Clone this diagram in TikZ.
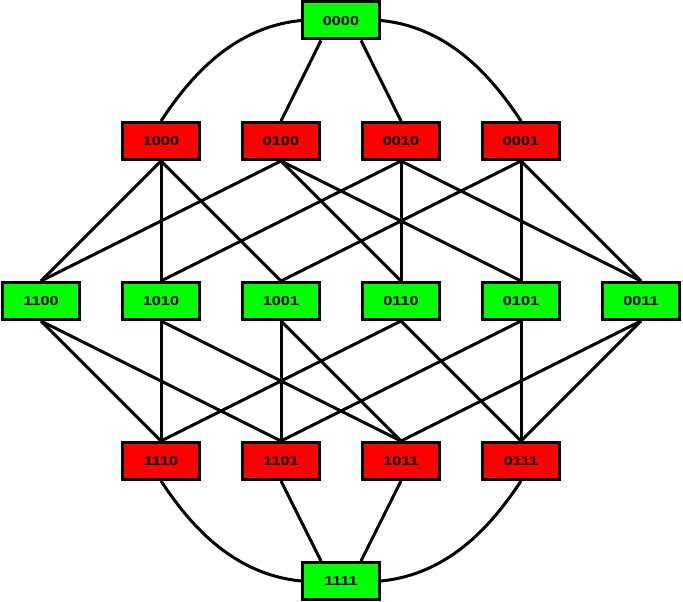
\documentclass[tikz,border=0pt]{standalone}
\usepackage{fontspec}
\setmainfont{Liberation Sans}
\newfontfamily\labelfont[FakeStretch=1.25]{Liberation Sans}
\usetikzlibrary{backgrounds}
\definecolor{evengreen}{RGB}{0,255,0}
\definecolor{oddred}{RGB}{255,0,0}
\begin{document}
\begin{tikzpicture}[x=1pt,y=-1pt,
  state/.style={draw=black, line width=3pt, minimum width=77pt, minimum height=37pt,
    inner sep=0pt, text depth=0pt, font=\labelfont\fontsize{13}{16}\selectfont\bfseries},
  even/.style={state, fill=evengreen},
  odd/.style={state, fill=oddred},
  link/.style={line width=3pt}]
\useasboundingbox (0,0) rectangle (683,602);

% rank 0 and rank 4
\node[even] (n0000) at (341,20.5) {0000};
\node[even] (n1111) at (341,581) {1111};

% rank 1
\node[odd] (n1000) at (161,141) {1000};
\node[odd] (n0100) at (281,141) {0100};
\node[odd] (n0010) at (401,141) {0010};
\node[odd] (n0001) at (521,141) {0001};

% rank 2
\node[even] (n1100) at (41,301) {1100};
\node[even] (n1010) at (161,301) {1010};
\node[even] (n1001) at (281,301) {1001};
\node[even] (n0110) at (401,301) {0110};
\node[even] (n0101) at (521,301) {0101};
\node[even] (n0011) at (641,301) {0011};

% rank 3
\node[odd] (n1110) at (161,461) {1110};
\node[odd] (n1101) at (281,461) {1101};
\node[odd] (n1011) at (401,461) {1011};
\node[odd] (n0111) at (521,461) {0111};

\begin{scope}[on background layer]
% rank 0 -> rank 1
\draw[link] ([xshift=-20pt]n0000.south) -- (n0100.north);
\draw[link] ([xshift=20pt]n0000.south) -- (n0010.north);
\draw[link] (n0000.west) .. controls +(-70,7) and +(27.5,-41.5) .. (n1000.north);
\draw[link] (n0000.east) .. controls +(70,7) and +(-27.5,-41.5) .. (n0001.north);

% rank 1 -> rank 2
\foreach \a/\b in {1000/1100, 1000/1010, 1000/1001,
                   0100/1100, 0100/0110, 0100/0101,
                   0010/1010, 0010/0110, 0010/0011,
                   0001/1001, 0001/0101, 0001/0011}
  \draw[link] (n\a.south) -- (n\b.north);

% rank 2 -> rank 3
\foreach \a/\b in {1100/1110, 1010/1110, 0110/1110,
                   1100/1101, 1001/1101, 0101/1101,
                   1010/1011, 1001/1011, 0011/1011,
                   0110/0111, 0101/0111, 0011/0111}
  \draw[link] (n\a.south) -- (n\b.north);

% rank 3 -> rank 4
\draw[link] (n1101.south) -- ([xshift=-20pt]n1111.north);
\draw[link] (n1011.south) -- ([xshift=20pt]n1111.north);
\draw[link] (n1111.west) .. controls +(-70,-7) and +(27.5,41.5) .. (n1110.south);
\draw[link] (n1111.east) .. controls +(70,-7) and +(-27.5,41.5) .. (n0111.south);
\end{scope}
\end{tikzpicture}
\end{document}
